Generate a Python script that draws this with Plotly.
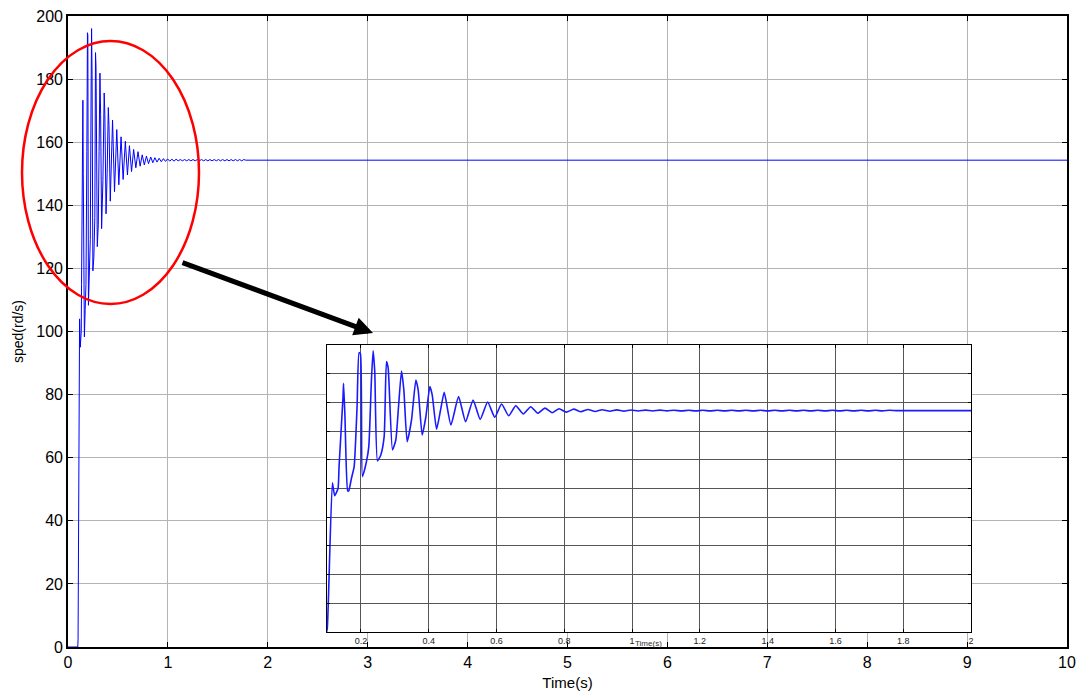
import plotly.graph_objects as go

# ---- data ----
# initial transient (time in s, speed in rd/s)
t_transient = [0.0, 0.098, 0.1008, 0.1159, 0.1227, 0.1325, 0.1355, 0.1473, 0.1489, 0.1530,
               0.1610, 0.1640, 0.1720, 0.1800, 0.1887, 0.1946, 0.1986, 0.2045, 0.2164, 0.2233,
               0.2311, 0.2360, 0.2409, 0.2489, 0.2587, 0.2686, 0.2754, 0.2804, 0.2932, 0.3030,
               0.3110, 0.3198, 0.3267, 0.3365, 0.3494, 0.3622, 0.3690, 0.3808, 0.3917, 0.4035,
               0.4104, 0.4232, 0.4350, 0.4459, 0.4656, 0.4882, 0.5089]
v_transient = [0.0, 0.0, 2.5, 104.0, 95.0, 100.0, 115.0, 164.0, 173.3, 150.0,
               98.3, 98.3, 107.0, 115.0, 157.0, 194.7, 194.0, 108.3, 118.7, 129.2,
               175.6, 196.0, 181.4, 119.2, 123.4, 136.1, 188.4, 184.0, 126.9, 133.8,
               157.0, 181.9, 168.7, 132.6, 147.8, 175.6, 168.7, 137.3, 150.0, 171.0,
               165.2, 141.3, 154.7, 167.0, 144.3, 164.0, 146.5]

# decaying oscillation (peaks / troughs)
t_ripple = [0.531, 0.552, 0.574, 0.595, 0.615, 0.636, 0.657, 0.679, 0.701, 0.722,
            0.743, 0.764, 0.785, 0.806, 0.828, 0.849, 0.870, 0.891, 0.912, 0.934,
            0.955, 0.976, 0.997, 1.018, 1.040, 1.061, 1.082, 1.103, 1.124, 1.146,
            1.167, 1.188, 1.209, 1.230, 1.252, 1.273, 1.294, 1.315, 1.336, 1.358,
            1.379, 1.400, 1.421, 1.442, 1.464, 1.485, 1.506, 1.527, 1.548, 1.570,
            1.591, 1.612, 1.633, 1.654, 1.676, 1.697, 1.718, 1.739, 1.760, 1.780]
v_ripple = [161.7, 148.2, 160.3, 149.6, 158.9, 150.7, 157.7, 151.9, 157.0, 152.4,
            156.0, 152.8, 155.6, 153.2, 155.3, 153.5, 155.1, 153.7, 154.9, 153.8,
            154.8, 153.9, 154.7, 154.0, 154.6, 154.0, 154.6, 154.1, 154.5, 154.1,
            154.5, 154.1, 154.5, 154.1, 154.5, 154.1, 154.5, 154.1, 154.5, 154.1,
            154.5, 154.1, 154.5, 154.1, 154.5, 154.1, 154.5, 154.1, 154.5, 154.1,
            154.5, 154.1, 154.5, 154.1, 154.5, 154.1, 154.5, 154.1, 154.5, 154.3]

# steady state
t_steady = [2.0, 5.0, 10.0]
v_steady = [154.3, 154.3, 154.3]

main_xticks = [0, 1, 2, 3, 4, 5, 6, 7, 8, 9, 10]
main_yticks = [0, 20, 40, 60, 80, 100, 120, 140, 160, 180, 200]
inset_xticks = [0.2, 0.4, 0.6, 0.8, 1.0, 1.2, 1.4, 1.6, 1.8, 2.0]
inset_xlabels = ["0.2", "0.4", "0.6", "0.8", "1", "1.2", "1.4", "1.6", "1.8", "2"]

t = t_transient + t_ripple + t_steady
v = v_transient + v_ripple + v_steady

FONT = "Liberation Sans, Arial, sans-serif"

fig = go.Figure()
fig.add_trace(go.Scatter(x=t, y=v, mode="lines", line=dict(color="#0000ff", width=1),
                         xaxis="x", yaxis="y", showlegend=False, hoverinfo="skip"))
fig.add_trace(go.Scatter(x=t, y=v, mode="lines",
                         line=dict(color="#1a1aff", width=1.6, shape="spline", smoothing=0.5),
                         xaxis="x2", yaxis="y2", showlegend=False, hoverinfo="skip"))

W, H = 1081, 697
L, R, T, B = 68, 14, 16, 50
pw, ph = W - L - R, H - T - B


def px2paper(px, py):
    return (px - L) / pw, (H - B - py) / ph


ix0, iy0 = px2paper(327, 632)
ix1, iy1 = px2paper(971, 345)

axis_common = dict(showline=True, linecolor="black", mirror="ticks", ticks="inside",
                   tickcolor="black", zeroline=False, automargin=False)

fig.update_layout(
    width=W, height=H,
    margin=dict(l=L, r=R, t=T, b=B, autoexpand=False),
    paper_bgcolor="white", plot_bgcolor="white",
    font=dict(family=FONT, color="black"),
    xaxis=dict(domain=[0, 1], range=[0, 10], tickvals=main_xticks, ticklen=5, linewidth=1.6,
               showgrid=True, gridcolor="#b4b4b4", gridwidth=1,
               tickfont=dict(size=16), title=dict(text="Time(s)", font=dict(size=15), standoff=7),
               anchor="y", **axis_common),
    yaxis=dict(domain=[0, 1], range=[0, 200], tickvals=main_yticks, ticklen=5, linewidth=1.6,
               showgrid=True, gridcolor="#b4b4b4", gridwidth=1,
               tickfont=dict(size=16), title=dict(text="sped(rd/s)", font=dict(size=14), standoff=9),
               anchor="x", **axis_common),
    xaxis2=dict(domain=[ix0, ix1], range=[0.1, 2.0], tickvals=inset_xticks, ticktext=inset_xlabels,
                ticklen=3, linewidth=1.4, showgrid=True, gridcolor="#555555", gridwidth=1,
                tickfont=dict(size=9, color="#222222"), anchor="y2", **axis_common),
    yaxis2=dict(domain=[iy0, iy1], range=[0, 200], dtick=20, showticklabels=False,
                ticklen=3, linewidth=1.4, showgrid=True, gridcolor="#555555", gridwidth=1,
                anchor="x2", **axis_common),
)

# red ellipse
ex0, ey0 = px2paper(22, 304)
ex1, ey1 = px2paper(199, 41)
fig.add_shape(type="circle", xref="paper", yref="paper", x0=ex0, x1=ex1, y0=ey0, y1=ey1,
              line=dict(color="#ff0000", width=2.5), layer="above")

# arrow
ax_tip, ay_tip = px2paper(373, 333)
fig.add_annotation(x=ax_tip, y=ay_tip, xref="paper", yref="paper", showarrow=True,
                   ax=-192, ay=-71, arrowhead=2, arrowwidth=5, arrowsize=0.75,
                   arrowcolor="black", text="")

# inset x title
tx, ty = px2paper(648, 650)
fig.add_annotation(x=tx, y=ty, xref="paper", yref="paper", showarrow=False,
                   text="Time(s)", font=dict(size=8, color="#333333"))

fig.write_html("out.html", config={"displayModeBar": False},
               post_script="document.body.style.margin='0';document.body.style.padding='0';")
